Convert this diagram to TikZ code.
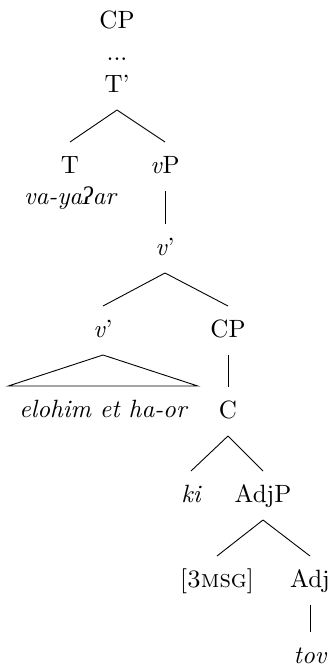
\documentclass[tikz,border=0pt]{standalone}
\usepackage{fontspec}
\setmainfont{lmroman10}[Extension=.otf, UprightFont=*-regular,
  ItalicFont=*-italic, SmallCapsFont=lmromancaps10-regular]
\newfontfamily\ipafont{Liberation Serif}
\usepackage{tikz}
\usetikzlibrary{positioning}

\begin{document}
\begin{tikzpicture}[
  x=1pt, y=-1pt,
  cat/.style={anchor=base, inner xsep=0pt, inner ysep=0pt,
              text height=17pt, text depth=4pt, outer ysep=14pt,
              font=\fontsize{25}{30}\selectfont},
  word/.style={cat, font=\fontsize{25}{30}\selectfont\itshape},
  branch/.style={draw=black, line width=0.9pt}
]
  \useasboundingbox (0,0) rectangle (329,667);

  \node[cat]  (cptop)  at (117,28)  {CP};
  \node[cat]  (dots)   at (117,60)  {...};
  \node[cat]  (tbar)   at (117,92)  {T'};
  \node[cat]  (t)      at (70,173)  {T};
  \node[cat]  (vp)     at (165,173) {\textit{v}P};
  \node[word] (verb)   at (70,204)  {va-ya{\ipafont\itshape ʔ}ar};
  \node[cat]  (vbarup) at (165,255) {\textit{v}'};
  \node[cat]  (vbarlo) at (103,337) {\textit{v}'};
  \node[cat]  (cplow)  at (228,337) {CP};
  \node[word, inner xsep=11pt] (subj) at (103,417) {elohim et ha-or};
  \node[cat]  (c)      at (228,418) {C};
  \node[word] (ki)     at (191,502) {ki};
  \node[cat]  (adjp)   at (263,502) {AdjP};
  \node[cat]  (agr)    at (217,587) {[\textsc{3msg}]};
  \node[cat]  (adj)    at (310,587) {Adj};
  \node[word] (tov)    at (310,663) {tov};

  \draw[branch] (tbar.south)   -- (t.north);
  \draw[branch] (tbar.south)   -- (vp.north);
  \draw[branch] (vp.south)     -- (vbarup.north);
  \draw[branch] (vbarup.south) -- (vbarlo.north);
  \draw[branch] (vbarup.south) -- (cplow.north);
  \draw[branch] (vbarlo.south) -- (subj.north west) -- (subj.north east) -- cycle;
  \draw[branch] (cplow.south)  -- (c.north);
  \draw[branch] (c.south)      -- (ki.north);
  \draw[branch] (c.south)      -- (adjp.north);
  \draw[branch] (adjp.south)   -- (agr.north);
  \draw[branch] (adjp.south)   -- (adj.north);
  \draw[branch] (adj.south)    -- (tov.north);

\end{tikzpicture}
\end{document}
